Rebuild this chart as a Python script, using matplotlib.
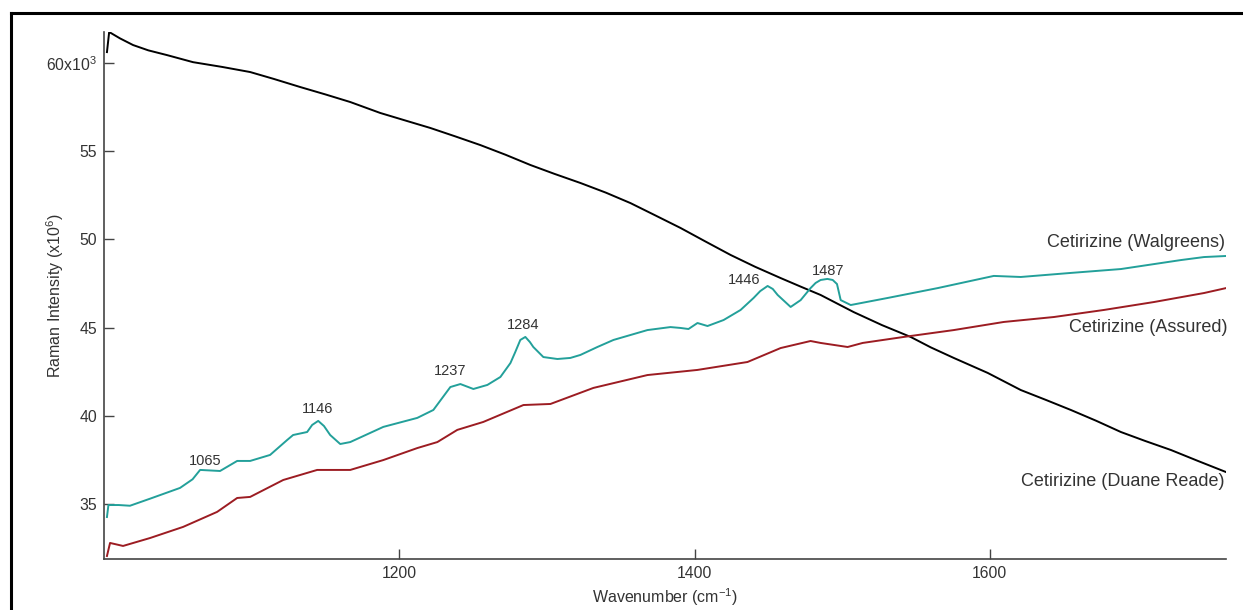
import matplotlib
matplotlib.use("Agg")
import matplotlib.pyplot as plt
from matplotlib.lines import Line2D

plt.rcParams['font.family'] = ['Liberation Sans', 'DejaVu Sans']
plt.rcParams['mathtext.fontset'] = 'custom'
plt.rcParams['mathtext.rm'] = 'Liberation Sans'
plt.rcParams['mathtext.it'] = 'Liberation Sans:italic'
plt.rcParams['mathtext.bf'] = 'Liberation Sans:bold'

# ---- data ----
duane_x = [1002.0, 1003.5, 1010.8, 1019.7, 1030.0, 1042.7, 1060.3, 1080.0, 1099.0, 1115.0,
           1132.9, 1150.0, 1166.8, 1187.1, 1205.0, 1221.0, 1238.0, 1254.9, 1272.0, 1288.8,
           1305.0, 1322.7, 1340.0, 1356.6, 1373.0, 1390.5, 1407.0, 1424.4, 1441.0, 1458.3,
           1472.0, 1485.4, 1507.8, 1527.0, 1546.4, 1560.0, 1575.6, 1598.6, 1621.0, 1638.0,
           1654.9, 1672.0, 1688.8, 1705.0, 1722.7, 1741.0, 1760.0]
duane_y = [60.62, 61.76, 61.40, 61.02, 60.72, 60.45, 60.05, 59.78, 59.49, 59.10,
           58.64, 58.22, 57.79, 57.17, 56.72, 56.32, 55.84, 55.35, 54.80, 54.22,
           53.72, 53.20, 52.65, 52.06, 51.38, 50.65, 49.90, 49.12, 48.45, 47.81,
           47.32, 46.85, 45.88, 45.14, 44.47, 43.88, 43.28, 42.43, 41.46, 40.90,
           40.33, 39.72, 39.08, 38.58, 38.06, 37.44, 36.81]

walg_x = [1002.0, 1003.0, 1010.0, 1017.6, 1031.2, 1051.5, 1060.0, 1065.1, 1078.6, 1090.2,
          1099.0, 1112.5, 1124.1, 1128.1, 1137.6, 1141.0, 1145.1, 1149.0, 1153.2, 1160.0,
          1166.8, 1189.2, 1212.2, 1223.1, 1234.6, 1241.4, 1250.2, 1259.7, 1268.5, 1275.3,
          1278.5, 1282.0, 1285.4, 1288.5, 1290.8, 1297.6, 1307.1, 1315.9, 1322.7, 1334.2,
          1345.1, 1356.6, 1368.1, 1383.7, 1390.5, 1395.9, 1402.0, 1408.8, 1419.7, 1431.2,
          1440.0, 1444.5, 1449.5, 1453.0, 1456.3, 1465.1, 1471.9, 1478.6, 1482.0, 1485.4,
          1490.0, 1493.6, 1496.5, 1499.0, 1505.8, 1530.8, 1564.7, 1602.7, 1621.0, 1654.9,
          1688.8, 1729.5, 1745.1, 1760.0]
walg_y = [34.26, 34.94, 34.94, 34.90, 35.30, 35.91, 36.40, 36.93, 36.87, 37.44,
          37.44, 37.78, 38.63, 38.91, 39.08, 39.48, 39.71, 39.42, 38.91, 38.40,
          38.51, 39.37, 39.88, 40.33, 41.63, 41.80, 41.52, 41.75, 42.20, 42.99,
          43.60, 44.30, 44.47, 44.18, 43.90, 43.33, 43.22, 43.28, 43.45, 43.90,
          44.30, 44.58, 44.86, 45.03, 44.98, 44.92, 45.26, 45.09, 45.43, 46.00,
          46.68, 47.07, 47.36, 47.19, 46.85, 46.17, 46.56, 47.24, 47.53, 47.70,
          47.76, 47.70, 47.47, 46.56, 46.28, 46.68, 47.24, 47.93, 47.87, 48.10,
          48.32, 48.83, 49.00, 49.06]

assured_x = [1002.0, 1004.1, 1012.9, 1031.2, 1053.6, 1076.6, 1090.2, 1099.0, 1121.4, 1144.4,
             1166.8, 1189.2, 1212.2, 1225.8, 1239.3, 1256.9, 1284.1, 1302.4, 1331.5, 1368.1,
             1402.0, 1435.9, 1458.3, 1478.6, 1485.4, 1503.7, 1513.9, 1541.7, 1575.6, 1609.5,
             1643.4, 1677.3, 1711.2, 1745.1, 1760.0]
assured_y = [32.05, 32.79, 32.62, 33.07, 33.70, 34.55, 35.34, 35.40, 36.36, 36.93,
             36.93, 37.49, 38.17, 38.51, 39.20, 39.65, 40.61, 40.67, 41.58, 42.31,
             42.60, 43.05, 43.84, 44.24, 44.13, 43.90, 44.13, 44.47, 44.86, 45.32,
             45.60, 46.00, 46.45, 46.96, 47.24]

peak_labels = ['1065', '1146', '1237', '1284', '1446', '1487']
peak_text_x = [1068.5, 1144.4, 1234.6, 1284.1, 1433.9, 1490.2]
peak_text_y = [37.44, 40.39, 42.54, 45.15, 47.70, 48.21]

series_names = ['Cetirizine (Walgreens)', 'Cetirizine (Assured)', 'Cetirizine (Duane Reade)']
series_label_x = [1759.0, 1761.0, 1759.0]
series_label_y = [49.80, 44.98, 36.30]

x_ticks = [1200, 1400, 1600]
y_ticks = [35, 40, 45, 50, 55, 60]
y_tick_labels = ['35', '40', '45', '50', '55', r'60x10$^{3}$']

teal = '#23a09a'
red = '#9c1c22'
txt = '#333333'

fig = plt.figure(figsize=(12.43, 6.10), dpi=100)
ax = fig.add_axes([104/1243, 1 - 559/610, (1226-104)/1243, (559-32)/610])

ax.plot(duane_x, duane_y, color='black', lw=1.4)
ax.plot(walg_x, walg_y, color=teal, lw=1.4)
ax.plot(assured_x, assured_y, color=red, lw=1.4)

for lab, tx, ty in zip(peak_labels, peak_text_x, peak_text_y):
    ax.text(tx, ty, lab, ha='center', va='center', fontsize=10.5, color=txt)

for name, tx, ty in zip(series_names, series_label_x, series_label_y):
    ax.text(tx, ty, name, ha='right', va='center', fontsize=13, color=txt)

ax.set_xlim(1000, 1760)
ax.set_ylim(31.88, 61.76)
ax.set_xticks(x_ticks)
ax.set_yticks(y_ticks)
ax.set_yticklabels(y_tick_labels)
ax.tick_params(direction='in', length=7, width=1.0, color='#444444',
               labelsize=11.3, labelcolor=txt, pad=5)
for s in ['top', 'right']:
    ax.spines[s].set_visible(False)
for s in ['left', 'bottom']:
    ax.spines[s].set_color('#444444')
    ax.spines[s].set_linewidth(1.2)

ax.set_xlabel(r'Wavenumber (cm$^{-1}$)', fontsize=11.5, color=txt, labelpad=4)
ax.set_ylabel(r'Raman Intensity (x10$^{6}$)', fontsize=11.5, color=txt)
ax.yaxis.set_label_coords(-0.034, 0.5)

# outer frame (top and left edges visible)
fig.add_artist(Line2D([11/1243, 11/1243], [0, 1 - 13/610], transform=fig.transFigure,
                      color='black', lw=2.2))
fig.add_artist(Line2D([11/1243, 1.0], [1 - 13/610, 1 - 13/610], transform=fig.transFigure,
                      color='black', lw=2.2))

fig.savefig('out.png', dpi=100)
